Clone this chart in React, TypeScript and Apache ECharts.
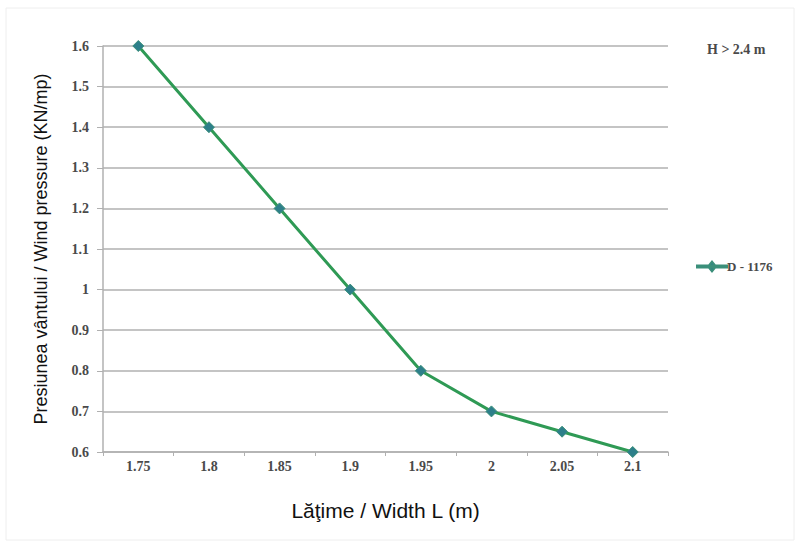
import React, { useEffect, useRef } from "react";
import * as echarts from "echarts";

const categories = ["1.75", "1.8", "1.85", "1.9", "1.95", "2", "2.05", "2.1"];
const seriesName = "D - 1176";
const values = [1.6, 1.4, 1.2, 1.0, 0.8, 0.7, 0.65, 0.6];
const yMin = 0.6;
const yMax = 1.6;
const yInterval = 0.1;
const xTitle = "Lăţime / Width L (m)";
const yTitle = "Presiunea vântului / Wind pressure (KN/mp)";
const note = "H > 2.4 m";

export default function App() {
  const ref = useRef<HTMLDivElement>(null);
  useEffect(() => {
    if (!ref.current) return;
    const chart = echarts.init(ref.current, null, { renderer: "svg" });
    const labelFont = {
      fontFamily: "Liberation Serif",
      fontWeight: "bold" as const,
      fontSize: 14,
      color: "#4a4a4a",
    };
    chart.setOption({
      animation: false,
      backgroundColor: "#fff",
      grid: { left: 103, right: 132, top: 46, bottom: 95, containLabel: false },
      graphic: [
        {
          type: "rect",
          shape: { x: 6, y: 8, width: 788, height: 532 },
          style: { fill: "none", stroke: "#eeeeee", lineWidth: 1 },
          silent: true,
        },
        {
          type: "text",
          x: 707,
          y: 49,
          style: { text: note, fill: "#4a4a4a", font: "bold 14px 'Liberation Serif'", textVerticalAlign: "middle" },
        },
      ],
      legend: {
        show: true,
        orient: "vertical",
        left: 691,
        top: 255,
        itemWidth: 30,
        itemHeight: 10,
        itemGap: 4,
        icon: "path://M0,4 L30,4 L30,6 L0,6 Z M15,0 L19,5 L15,10 L11,5 Z",
        textStyle: { ...labelFont, fontSize: 13, padding: [0, 0, 0, -5] },
        data: [{ name: seriesName }],
      },
      xAxis: {
        type: "category",
        data: categories,
        boundaryGap: true,
        name: xTitle,
        nameLocation: "middle",
        nameGap: 48,
        nameTextStyle: { fontFamily: "Liberation Sans", fontSize: 21, color: "#111" },
        axisLine: { lineStyle: { color: "#b0b0b0", width: 1.5 } },
        axisTick: { show: true, alignWithLabel: false, length: 4, lineStyle: { color: "#b0b0b0" } },
        axisLabel: { ...labelFont, margin: 7 },
        splitLine: { show: false },
      },
      yAxis: {
        type: "value",
        min: yMin,
        max: yMax,
        interval: yInterval,
        name: yTitle,
        nameLocation: "middle",
        nameGap: 53,
        nameTextStyle: { fontFamily: "Liberation Sans", fontSize: 18, color: "#111" },
        axisLine: { show: true, lineStyle: { color: "#b0b0b0", width: 1.5 } },
        axisTick: { show: true, length: 6, lineStyle: { color: "#b0b0b0" } },
        axisLabel: {
          ...labelFont,
          margin: 14,
          formatter: (v: number) => String(Math.round(v * 10) / 10),
        },
        splitLine: { show: true, lineStyle: { color: "#c4c4c4", width: 1.8 } },
      },
      series: [
        {
          name: seriesName,
          type: "line",
          data: values,
          symbol: "diamond",
          symbolSize: 11,
          lineStyle: { color: "#2f9a55", width: 3 },
          itemStyle: { color: "#2d7f8a", borderColor: "#3a8f7a", borderWidth: 1 },
          color: "#2f9a55",
        },
      ],
    });
    return () => chart.dispose();
  }, []);
  return <div ref={ref} style={{ position: "fixed", left: 0, top: 0, width: 800, height: 547 }} />;
}
